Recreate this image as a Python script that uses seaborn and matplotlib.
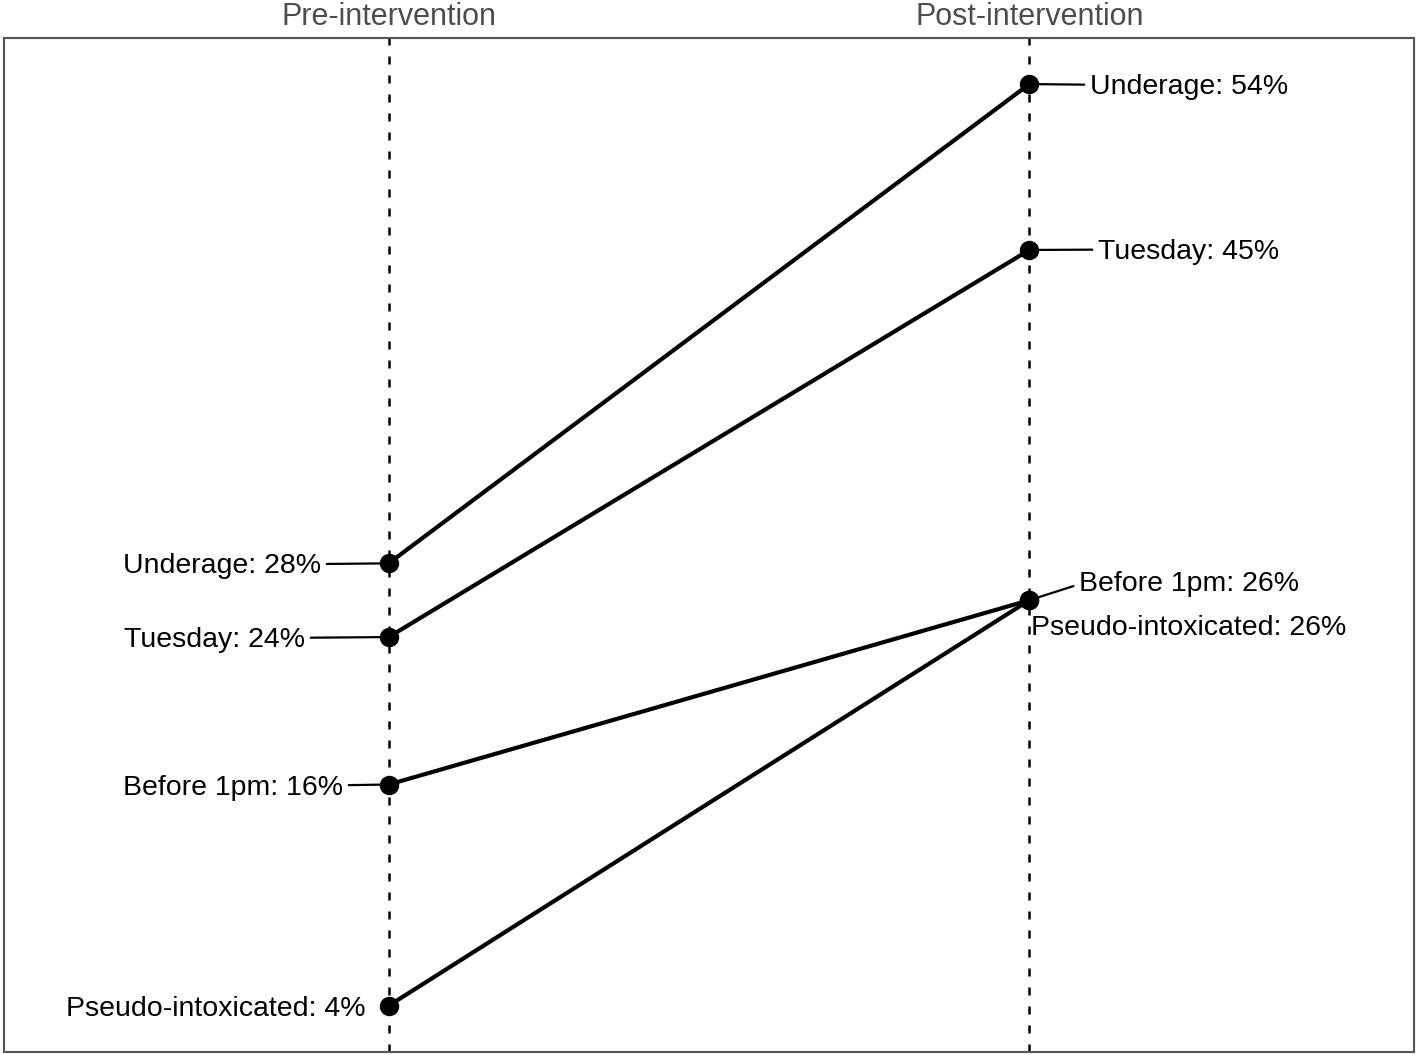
import pandas as pd
import matplotlib.pyplot as plt
import seaborn as sns

# Daten
categories = ["Underage", "Tuesday", "Before 1pm", "Pseudo-intoxicated"]
pre_values = [28, 24, 16, 4]
post_values = [54, 45, 26, 26]
periods = ["Pre-intervention", "Post-intervention"]

df = pd.DataFrame({
    "category": categories * 2,
    "period": [1] * len(categories) + [2] * len(categories),
    "value": pre_values + post_values,
})

sns.set_style("white")
plt.rcParams["font.family"] = ["Liberation Sans", "DejaVu Sans"]

fig = plt.figure(figsize=(14.18, 10.55), dpi=100)
ax = fig.add_axes([0.003, 0.003, 0.994, 0.961])

# dashed period guides
for x in (1, 2):
    ax.axvline(x, color="black", lw=1.8, ls=(0, (3.2, 4.4)), zorder=1)

sns.lineplot(
    data=df,
    x="period",
    y="value",
    units="category",
    estimator=None,
    sort=False,
    color="black",
    lw=3,
    marker="o",
    markersize=14,
    markeredgewidth=0,
    legend=False,
    ax=ax,
    zorder=3
)

# label offsets in pixels: (dx, dy, leader line?)
left_offsets = {
    "Underage": (-68, -3, True),
    "Tuesday": (-84, -3, True),
    "Before 1pm": (-46, -3, True),
    "Pseudo-intoxicated": (-23, -3, False),
}
right_offsets = {
    "Underage": (61, -3, True),
    "Tuesday": (69, -2, True),
    "Before 1pm": (50, 16, True),
    "Pseudo-intoxicated": (2, -28, False),
}


def leader(relpos):
    return dict(arrowstyle="-", color="black", lw=1.6,
                shrinkA=2, shrinkB=0, relpos=relpos)


for cat, v in zip(categories, pre_values):
    dx, dy, line = left_offsets[cat]
    ax.annotate(
        f"{cat}: {v}%", xy=(1, v), xytext=(dx, dy),
        textcoords="offset pixels", ha="right", va="center", color="black",
        fontsize=20.5, arrowprops=leader((1, 0.59)) if line else None, zorder=2
    )

for cat, v in zip(categories, post_values):
    dx, dy, line = right_offsets[cat]
    rel = (0, 0.5) if dy > 0 else (0, 0.59)
    ax.annotate(
        f"{cat}: {v}%", xy=(2, v), xytext=(dx, dy),
        textcoords="offset pixels", ha="left", va="center", color="black",
        fontsize=20.5, arrowprops=leader(rel) if line else None, zorder=2
    )

ax.set_xlim(0.4, 2.6)
ax.set_ylim(1.5, 56.5)

ax.xaxis.tick_top()
ax.set_xticks([1, 2], periods)
ax.tick_params(axis="x", length=0, pad=4, labelsize=22, labelcolor="#4d4d4d")
ax.set_yticks([])
ax.set_xlabel("")
ax.set_ylabel("")

for spine in ax.spines.values():
    spine.set_color("#555555")
    spine.set_linewidth(1.5)

plt.savefig("out.png", dpi=100)
